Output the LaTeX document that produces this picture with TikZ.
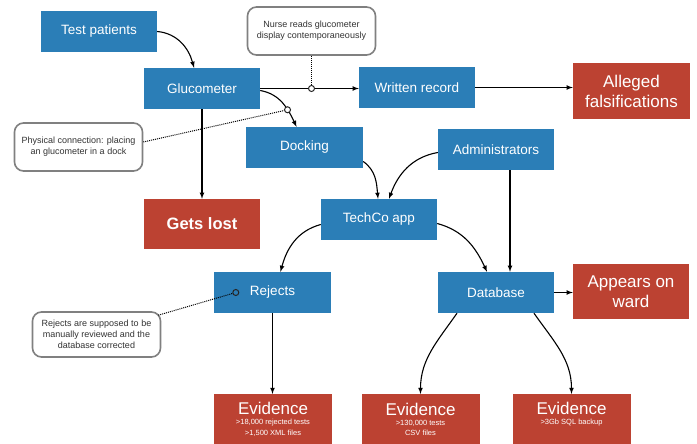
\documentclass[tikz,border=0pt]{standalone}
\usepackage{fontspec}
\setmainfont{Liberation Sans}
\usetikzlibrary{calc, arrows}
\definecolor{appblue}{RGB}{43,126,183}
\definecolor{lossred}{RGB}{188,66,50}
\definecolor{notegray}{RGB}{128,128,128}

\begin{document}
\begin{tikzpicture}[>=latex, x=1pt, y=1pt,
    box/.style={fill=appblue, text=white, minimum width=116pt, minimum height=41pt, inner sep=2pt, font=\fontsize{13.5}{16}\selectfont},
    alarm/.style={fill=lossred, text=white, align=center, minimum width=117pt, inner sep=2pt, font=\fontsize{17}{20}\selectfont},
    evid/.style={fill=lossred, text=white, align=center, anchor=north, minimum width=118pt, minimum height=50pt, inner sep=2pt, font=\fontsize{7.5}{10.3}\selectfont},
    note/.style={draw=notegray, line width=1.6pt, rounded corners=9pt, fill=white, text=black!80, align=center, minimum width=128pt, minimum height=46pt, font=\fontsize{9}{11}\selectfont},
    link/.style={->, line width=1.1pt},
    hint/.style={densely dotted, line width=1pt},
    knob/.style={circle, draw=black!85, line width=1pt, fill=white, inner sep=0pt, minimum size=6pt}]

        \useasboundingbox (0,0) rectangle (697,-444);

        % the blue boxes
        \node[box] (patients) at (99,-31.5) {Test patients};
        \node[box] (gluco) at (202,-88.5) {Glucometer};
        \node[box] (written) at (417,-87.5) {Written record};
        \node[box, minimum width=117pt] (docking) at (304.5,-147.5) {Docking};
        \node[box] (admins) at (496,-149.5) {Administrators};
        \node[box] (app) at (379,-219.5) {TechCo app};
        \node[box, minimum width=117pt] (rejects) at (272.5,-292.5) {Rejects};
        \node[box] (dbase) at (496,-292.5) {Database};

        % the red outcomes
        \node[alarm, minimum height=56pt] (alleged) at (631.5,-91) {Alleged\\falsifications};
        \node[alarm, minimum width=116pt, minimum height=50pt, font=\bfseries\fontsize{16.5}{20}\selectfont] (lost) at (202,-224) {Gets lost};
        \node[alarm, minimum width=116pt, minimum height=55pt] (ward) at (631,-291.5) {Appears on\\ward};
        \node[evid] (ev1) at (273,-394) {{\fontsize{17}{20}\selectfont Evidence}\\>18,000 rejected tests\\>1,500 XML files};
        \node[evid] (ev2) at (420.5,-394) {{\fontsize{17}{20}\selectfont Evidence}\\>130,000 tests\\CSV files};
        \node[evid] (ev3) at (571.5,-394) {{\fontsize{17}{20}\selectfont Evidence}\\>3Gb SQL backup\\\vphantom{>1,500 XML files}};

        % the notes
        \node[note, minimum height=48pt] (nurse) at (311.5,-31) {Nurse reads glucometer\\display contemporaneously};
        \node[note, minimum height=48pt] (physical) at (78.5,-147) {Physical connection: placing\\an glucometer in a dock};
        \node[note, minimum height=45pt] (rnote) at (96.5,-334.5) {Rejects are supposed to be\\manually reviewed and the\\database corrected};

        % the arrows
        \draw[link] (patients.east) to[out=-5, in=105] ([xshift=-8pt]gluco.north);
        \draw[link] (gluco.east) -- (gluco.east -| written.west);
        \draw[link] ([yshift=-2pt]gluco.east) to[out=-10, in=115] node[knob, pos=0.66] (dockknob) {} ([xshift=-8pt]docking.north);
        \draw[link] (gluco.south) -- (lost.north);
        \draw[link] (written.east) -- (written.east -| alleged.west);
        \draw[link] ([yshift=-14pt]docking.east) to[out=-35, in=95] ([xshift=-1pt]app.north);
        \draw[link] ([yshift=-3pt]admins.west) to[out=190, in=70] ([xshift=10pt]app.north);
        \draw[link] ([xshift=14pt]admins.south) -- ([xshift=14pt]dbase.north);
        \draw[link] ([yshift=-4pt]app.east) to[out=-15, in=115] ([xshift=-9pt]dbase.north);
        \draw[link] ([yshift=-5pt]app.west) to[out=195, in=75] ([xshift=8pt]rejects.north);
        \draw[link] (rejects.south) -- (rejects.south |- ev1.north);
        \draw[link] ([xshift=-39pt]dbase.south) to[out=-125, in=90] (ev2.north);
        \draw[link] ([xshift=38pt]dbase.south) to[out=-55, in=90] (ev3.north);
        \draw[link] (dbase.east) -- (dbase.east -| ward.west);

        % the dotted hints
        \node[knob] (nurseknob) at (nurse.south |- gluco.east) {};
        \draw[hint] (nurse.south) -- (nurseknob);
        \draw[hint] ([yshift=5pt]physical.east) -- (dockknob);
        \node[knob, fill=appblue] (rejknob) at ([xshift=22pt]rejects.west) {};
        \draw[hint] ([xshift=-3pt,yshift=-4pt]rnote.north east) -- (rejknob);
\end{tikzpicture}
\end{document}
